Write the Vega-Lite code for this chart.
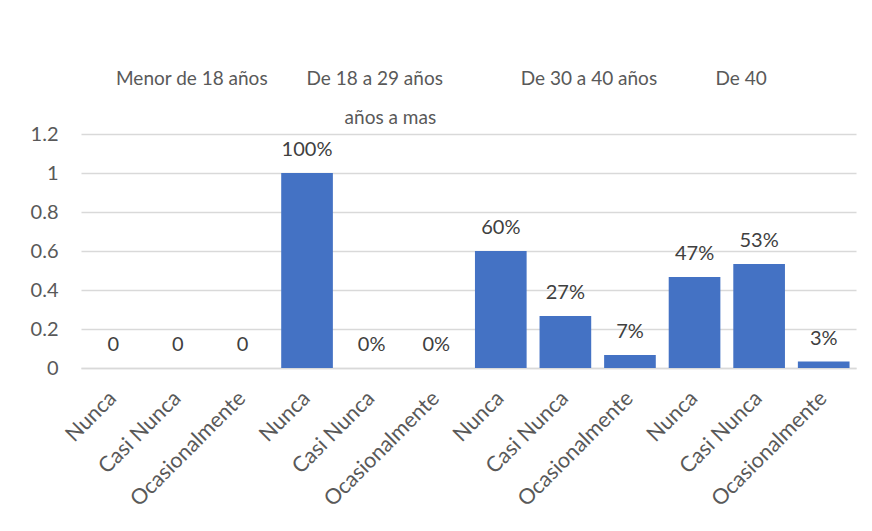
{
  "$schema": "https://vega.github.io/schema/vega-lite/v6.json",
  "width": 872,
  "height": 531,
  "autosize": {"type": "fit", "contains": "padding"},
  "padding": {"left": 30, "top": 70, "right": 16, "bottom": 20},
  "background": "white",
  "config": {
    "font": "Lato",
    "view": {"stroke": null},
    "title": {"color": "#595959", "subtitleColor": "#595959", "font": "Lato", "subtitleFont": "Lato", "fontWeight": "normal", "fontSize": 19, "subtitleFontSize": 19}
  },
  "title": {
    "text": "Menor de 18 años\u00a0\u00a0\u00a0\u00a0\u00a0\u00a0\u00a0\u00a0De 18 a 29 años\u00a0\u00a0\u00a0\u00a0\u00a0\u00a0\u00a0\u00a0\u00a0\u00a0\u00a0\u00a0\u00a0\u00a0\u00a0\u00a0De 30 a 40 años\u00a0\u00a0\u00a0\u00a0\u00a0\u00a0\u00a0\u00a0\u00a0\u00a0\u00a0\u00a0De 40",
    "subtitle": "\u200b\u00a0\u00a0\u00a0\u00a0\u00a0\u00a0\u00a0\u00a0\u00a0\u00a0\u00a0\u00a0\u00a0\u00a0\u00a0\u00a0\u00a0\u00a0\u00a0\u00a0\u00a0\u00a0\u00a0\u00a0\u00a0\u00a0\u00a0\u00a0\u00a0\u00a0\u00a0\u00a0\u00a0\u00a0\u00a0\u00a0\u00a0\u00a0\u00a0\u00a0\u00a0\u00a0\u00a0\u00a0\u00a0\u00a0\u00a0años a mas",
    "anchor": "start",
    "frame": "group",
    "dx": 35,
    "offset": -4,
    "subtitlePadding": 20
  },
  "data": {
    "values": [
      {"key": "Menor de 18 años|Nunca", "valor": 0, "etiqueta": "0"},
      {"key": "Menor de 18 años|Casi Nunca", "valor": 0, "etiqueta": "0"},
      {"key": "Menor de 18 años|Ocasionalmente", "valor": 0, "etiqueta": "0"},
      {"key": "De 18 a 29 años|Nunca", "valor": 1, "etiqueta": "100%"},
      {"key": "De 18 a 29 años|Casi Nunca", "valor": 0, "etiqueta": "0%"},
      {"key": "De 18 a 29 años|Ocasionalmente", "valor": 0, "etiqueta": "0%"},
      {"key": "De 30 a 40 años|Nunca", "valor": 0.6, "etiqueta": "60%"},
      {"key": "De 30 a 40 años|Casi Nunca", "valor": 0.2667, "etiqueta": "27%"},
      {"key": "De 30 a 40 años|Ocasionalmente", "valor": 0.0667, "etiqueta": "7%"},
      {"key": "De 40 años a mas|Nunca", "valor": 0.4667, "etiqueta": "47%"},
      {"key": "De 40 años a mas|Casi Nunca", "valor": 0.5333, "etiqueta": "53%"},
      {"key": "De 40 años a mas|Ocasionalmente", "valor": 0.0333, "etiqueta": "3%"}
    ]
  },
  "encoding": {
    "x": {
      "field": "key",
      "type": "nominal",
      "sort": null,
      "scale": {"paddingInner": 0.2, "paddingOuter": 0.1},
      "axis": {
        "title": null,
        "labelExpr": "split(datum.label, '|')[1]",
        "labelAngle": -45,
        "labelAlign": "right",
        "labelBaseline": "middle",
        "labelPadding": 27,
        "labelFontSize": 21.5,
        "labelColor": "#595959",
        "labelFont": "Lato",
        "ticks": false,
        "domainColor": "#d9d9d9",
        "domainWidth": 1.5,
        "grid": false,
        "labelOverlap": false,
        "labelLimit": 300
      }
    },
    "y": {
      "field": "valor",
      "type": "quantitative",
      "scale": {"domain": [0, 1.2], "nice": false},
      "axis": {
        "title": null,
        "values": [0, 0.2, 0.4, 0.6, 0.8, 1, 1.2],
        "format": "~g",
        "labelFontSize": 20,
        "labelColor": "#595959",
        "labelFont": "Lato",
        "labelPadding": 23,
        "ticks": false,
        "domain": false,
        "gridColor": "#d9d9d9",
        "gridWidth": 1.5
      }
    }
  },
  "layer": [
    {"mark": {"type": "bar", "color": "#4472C4"}},
    {
      "mark": {"type": "text", "baseline": "alphabetic", "dy": -17, "fontSize": 20, "color": "#404040", "font": "Lato"},
      "encoding": {"text": {"field": "etiqueta"}}
    }
  ]
}
